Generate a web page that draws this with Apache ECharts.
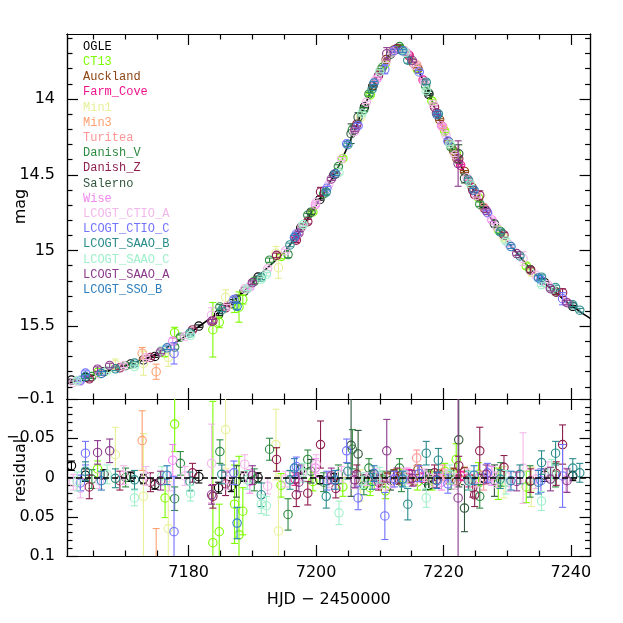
<!DOCTYPE html>
<html>
<head>
<meta charset="utf-8">
<script src="https://cdn.jsdelivr.net/npm/echarts@6/dist/echarts.min.js"></script>
<style>html,body{margin:0;padding:0;background:#fff}#c{width:623px;height:623px}</style>
</head>
<body>
<div id="c"></div>
<script>
// ---------- axis ranges & tick labels ----------
const xMin = 7160.9, xMax = 7243.1;
const magMin = 13.571, magMax = 15.98;
const resMin = -0.1, resMax = 0.1;
const xMajorTicks = [7180, 7200, 7220, 7240];
const xMinorTicks = [7165, 7170, 7175, 7185, 7190, 7195, 7205, 7210, 7215, 7225, 7230, 7235];
const magMajorTicks = [14, 14.5, 15, 15.5];
const magMinorTicks = [13.6, 13.7, 13.8, 13.9, 14.1, 14.2, 14.3, 14.4, 14.6, 14.7, 14.8, 14.9, 15.1, 15.2, 15.3, 15.4, 15.6, 15.7, 15.8, 15.9];
const resMajorTicks = [-0.1, -0.05, 0, 0.05, 0.1];
const resMinorTicks = [-0.09, -0.08, -0.07, -0.06, -0.04, -0.03, -0.02, -0.01, 0.01, 0.02, 0.03, 0.04, 0.06, 0.07, 0.08, 0.09];

// ---------- model light curve ----------
const modelT = [7160.9, 7163, 7165, 7167, 7170, 7173, 7175, 7177, 7179, 7181, 7183, 7185, 7187, 7189, 7191, 7193, 7195, 7197, 7199, 7201, 7203, 7205, 7207, 7209, 7210, 7211, 7212, 7213, 7214, 7215, 7216, 7217, 7218, 7219, 7220, 7221, 7222, 7223, 7224, 7225, 7226, 7227, 7228, 7229, 7230, 7231, 7232, 7233, 7234, 7235, 7236, 7237, 7238, 7239, 7240, 7241, 7242, 7243.1];
const modelMag = [15.88, 15.85, 15.825, 15.80, 15.76, 15.72, 15.68, 15.63, 15.58, 15.52, 15.46, 15.40, 15.33, 15.26, 15.17, 15.09, 15.01, 14.90, 14.77, 14.63, 14.49, 14.31, 14.11, 13.91, 13.82, 13.74, 13.685, 13.665, 13.69, 13.74, 13.81, 13.89, 13.99, 14.10, 14.20, 14.30, 14.38, 14.46, 14.54, 14.62, 14.69, 14.76, 14.82, 14.88, 14.94, 14.99, 15.04, 15.09, 15.14, 15.18, 15.22, 15.26, 15.29, 15.33, 15.36, 15.39, 15.42, 15.45];

// ---------- datasets ----------
const OGLE_t = [7161.6, 7163.8, 7166.7, 7170.9, 7172.9, 7174.7, 7181.6, 7184.7, 7186.7, 7188.7, 7190.9, 7197.6, 7200.6, 7202.8, 7207.6, 7208.9, 7212.6, 7217.7, 7226.4, 7235.9, 7240.3];
const OGLE_mag = [15.855, 15.837, 15.80, 15.749, 15.722, 15.699, 15.499, 15.423, 15.351, 15.269, 15.175, 14.85, 14.663, 14.50, 14.052, 13.916, 13.673, 13.97, 14.721, 15.212, 15.368];
const OGLE_res = [-0.015, -0.003, -0.004, -0.001, 0.002, 0.009, -0.001, 0.013, 0.011, -0.001, 0, -0.010, 0.003, 0, 0.002, -0.004, 0.003, 0.010, 0.001, -0.003, -0.002];
const OGLE_err = [0.006, 0.008, 0.006, 0.006, 0.006, 0.006, 0.008, 0.007, 0.007, 0.006, 0.006, 0.006, 0.005, 0.005, 0.005, 0.005, 0.005, 0.005, 0.005, 0.008, 0.006];

const CT13_t = [7165.7, 7176.3, 7177.8, 7183.8, 7184.8, 7187.2, 7187.9, 7188.5, 7194.5, 7199.5, 7204.2, 7208.5, 7210.9, 7213.3, 7215.9, 7218.2, 7220.2, 7222.0, 7225.5, 7228.6, 7233.0];
const CT13_mag = [15.804, 15.676, 15.542, 15.523, 15.474, 15.359, 15.373, 15.323, 15.04, 14.745, 14.392, 13.973, 13.767, 13.667, 13.806, 14.014, 14.212, 14.357, 14.651, 14.863, 15.102];
const CT13_res = [-0.011, 0.026, -0.068, 0.083, 0.069, 0.034, 0.073, 0.043, 0.010, 0.005, 0.012, 0.013, 0.017, -0.003, 0.006, 0.004, -0.008, -0.023, -0.004, 0.008, 0.012];
const CT13_err = [0.010, 0.025, 0.035, 0.18, 0.035, 0.05, 0.10, 0.03, 0.015, 0.012, 0.012, 0.010, 0.010, 0.008, 0.010, 0.012, 0.010, 0.020, 0.015, 0.020, 0.020];

const Auckland_t = [7209.0, 7210.2, 7211.0, 7212.2, 7213.0, 7213.8, 7214.6, 7215.3, 7216.0, 7219.4, 7220.8, 7221.6, 7222.1, 7223.3, 7224.5];
const Auckland_mag = [13.908, 13.808, 13.74, 13.676, 13.667, 13.682, 13.716, 13.764, 13.80, 14.136, 14.282, 14.344, 14.394, 14.478, 14.583];
const Auckland_res = [-0.002, 0.003, 0.000, -0.004, 0.002, -0.003, 0.001, 0.004, -0.010, -0.004, 0.002, -0.006, 0.004, -0.007, 0.003];
const Auckland_err = [0.006, 0.006, 0.006, 0.006, 0.006, 0.006, 0.006, 0.006, 0.006, 0.006, 0.006, 0.006, 0.006, 0.006, 0.006];

const FarmCove_t = [7196.7, 7214.6, 7216.8, 7222.7, 7224.0];
const FarmCove_mag = [14.922, 13.711, 13.875, 14.438, 14.544];
const FarmCove_res = [0.002, -0.004, 0.000, -0.002, 0.004];
const FarmCove_err = [0.008, 0.006, 0.006, 0.006, 0.008];

const Min1_t = [7168.5, 7172.9, 7176.8, 7185.8, 7193.7, 7194.1, 7207.0, 7229.5, 7233.8];
const Min1_mag = [15.751, 15.744, 15.705, 15.309, 15.018, 15.113, 14.12, 14.916, 15.142];
const Min1_res = [-0.029, 0.024, 0.065, -0.061, -0.042, 0.068, 0.010, 0.006, 0.012];
const Min1_err = [0.035, 0.08, 0.06, 0.05, 0.045, 0.07, 0.02, 0.02, 0.025];

const Min3_t = [7172.7, 7174.9];
const Min3_mag = [15.678, 15.80];
const Min3_res = [-0.047, 0.115];
const Min3_err = [0.038, 0.05];

const Turitea_t = [7215.8, 7219.9, 7226.3];
const Turitea_mag = [13.775, 14.184, 14.714];
const Turitea_res = [-0.025, -0.006, 0.004];
const Turitea_err = [0.010, 0.010, 0.012];

const DanishV_t = [7164.8, 7170.1, 7177.8, 7178.7, 7184.9, 7190.3, 7192.7, 7195.6, 7198.7, 7201.2, 7203.5, 7205.7, 7207.5, 7208.3, 7210.4, 7213.1, 7213.4, 7217.2, 7221.2, 7225.7, 7229.0, 7233.6, 7237.6];
const DanishV_mag = [15.832, 15.76, 15.637, 15.572, 15.372, 15.203, 15.064, 15.027, 14.767, 14.626, 14.446, 14.204, 14.07, 13.968, 13.792, 13.654, 13.676, 13.914, 14.318, 14.694, 14.876, 15.125, 15.272];
const DanishV_res = [0.002, 0.000, 0.027, -0.018, -0.033, 0.003, -0.036, 0.047, -0.023, 0.006, -0.004, -0.036, 0.010, -0.012, 0.002, -0.012, 0.006, 0.004, 0.003, 0.024, -0.004, 0.005, -0.003];
const DanishV_err = [0.012, 0.012, 0.015, 0.015, 0.015, 0.014, 0.014, 0.02, 0.012, 0.012, 0.012, 0.025, 0.012, 0.012, 0.010, 0.012, 0.012, 0.012, 0.012, 0.015, 0.015, 0.02, 0.015];

const DanishZ_t = [7164.4, 7169.2, 7174.0, 7180.6, 7183.8, 7185.8, 7193.8, 7196.9, 7198.7, 7200.7, 7203.1, 7206.4, 7209.8, 7212.7, 7218.6, 7222.4, 7224.6, 7224.9, 7225.7, 7229.5, 7233.7, 7237.7, 7238.7];
const DanishZ_mag = [15.847, 15.774, 15.706, 15.524, 15.464, 15.378, 15.032, 14.932, 14.81, 14.613, 14.494, 14.166, 13.846, 13.666, 14.054, 14.395, 14.603, 14.632, 14.636, 14.897, 15.129, 15.275, 15.278];
const DanishZ_res = [0.012, 0.004, 0.006, -0.006, 0.024, 0.008, -0.023, 0.022, 0.020, -0.042, 0.014, -0.004, 0.006, -0.002, -0.006, -0.015, 0.013, 0.022, -0.034, -0.013, 0.004, -0.005, -0.042];
const DanishZ_err = [0.015, 0.012, 0.012, 0.012, 0.015, 0.015, 0.015, 0.015, 0.015, 0.03, 0.012, 0.012, 0.010, 0.010, 0.010, 0.012, 0.012, 0.015, 0.03, 0.015, 0.015, 0.015, 0.025];

const Salerno_t = [7187.5, 7199.2, 7205.5, 7206.6, 7211.7, 7217.7, 7222.4, 7223.3, 7228.0];
const Salerno_mag = [15.32, 14.747, 14.229, 14.12, 13.704, 13.962, 14.362, 14.524, 14.824];
const Salerno_res = [0.005, -0.008, -0.041, -0.030, 0.004, 0.002, -0.048, 0.039, 0.004];
const Salerno_err = [0.02, 0.015, 0.065, 0.03, 0.012, 0.012, 0.06, 0.03, 0.02];

const Wise_t = [7177.5, 7189.6, 7199.9, 7209.6, 7214.3, 7219.7, 7227.6];
const Wise_mag = [15.598, 15.24, 14.698, 13.864, 13.698, 14.176, 14.798];
const Wise_res = [-0.022, 0.005, -0.012, 0.004, -0.002, 0.006, -0.002];
const Wise_err = [0.02, 0.015, 0.012, 0.010, 0.010, 0.010, 0.012];

const CTIOA_t = [7161.9, 7163.0, 7166.0, 7169.8, 7173.3, 7177.0, 7179.4, 7183.6, 7186.0, 7188.8, 7192.4, 7195.2, 7197.8, 7200.0, 7202.0, 7204.0, 7206.0, 7207.9, 7209.3, 7211.0, 7212.0, 7213.8, 7215.5, 7217.0, 7218.4, 7220.4, 7221.8, 7223.7, 7225.2, 7227.0, 7228.4, 7230.3, 7232.5, 7234.5, 7236.4, 7239.2];
const CTIOA_mag = [15.871, 15.864, 15.814, 15.76, 15.708, 15.635, 15.568, 15.427, 15.368, 15.253, 15.121, 15.002, 14.844, 14.683, 14.563, 14.396, 14.216, 14.022, 13.877, 13.751, 13.69, 13.681, 13.778, 13.887, 14.034, 14.238, 14.37, 14.519, 14.637, 14.755, 14.848, 14.961, 15.053, 15.162, 15.227, 15.338];
const CTIOA_res = [0.006, 0.014, 0.004, -0.003, -0.002, 0.005, -0.002, -0.018, 0.003, -0.017, 0.011, 0.002, -0.006, -0.017, 0.003, -0.004, 0.006, 0.002, -0.003, 0.011, 0.005, -0.004, 0.003, -0.003, 0.004, -0.002, 0.005, -0.001, 0.002, -0.005, 0.003, 0.006, -0.012, 0.002, -0.008, 0.003];
const CTIOA_err = [0.010, 0.012, 0.010, 0.012, 0.012, 0.012, 0.012, 0.05, 0.012, 0.012, 0.010, 0.010, 0.010, 0.012, 0.010, 0.010, 0.008, 0.008, 0.008, 0.008, 0.008, 0.008, 0.008, 0.008, 0.008, 0.008, 0.010, 0.010, 0.010, 0.010, 0.010, 0.012, 0.045, 0.012, 0.012, 0.015];

const CTIOC_t = [7163.0, 7163.8, 7177.7, 7187.1, 7196.9, 7201.7, 7204.8, 7206.6, 7210.8, 7212.3, 7216.2, 7220.7, 7226.9, 7235.3, 7238.7];
const CTIOC_mag = [15.857, 15.809, 15.679, 15.324, 14.891, 14.589, 14.296, 14.176, 13.804, 13.68, 13.821, 14.278, 14.749, 15.194, 15.318];
const CTIOC_res = [0.007, -0.031, 0.069, -0.006, -0.014, 0.004, -0.034, 0.026, 0.049, 0.002, -0.005, 0.008, -0.006, 0.004, -0.002];
const CTIOC_err = [0.010, 0.015, 0.07, 0.015, 0.012, 0.012, 0.015, 0.015, 0.03, 0.010, 0.010, 0.012, 0.012, 0.015, 0.04];

const SAAOB_t = [7163.8, 7168.5, 7171.5, 7180.2, 7185.2, 7191.4, 7195.9, 7201.6, 7205.0, 7208.8, 7214.4, 7217.3, 7219.2, 7223.9, 7228.9, 7232.0, 7235.4, 7237.6, 7240.3, 7241.4];
const SAAOB_mag = [15.832, 15.781, 15.743, 15.545, 15.391, 15.177, 14.963, 14.614, 14.302, 13.935, 13.744, 13.889, 14.098, 14.534, 14.877, 15.036, 15.176, 15.244, 15.358, 15.394];
const SAAOB_res = [-0.008, 0.001, 0.003, 0.005, -0.004, 0.022, 0.003, 0.024, -0.008, 0.005, 0.034, -0.031, -0.022, 0.004, 0.002, -0.004, -0.019, -0.031, -0.012, -0.006];
const SAAOB_err = [0.012, 0.012, 0.012, 0.012, 0.012, 0.015, 0.012, 0.015, 0.010, 0.010, 0.02, 0.015, 0.015, 0.012, 0.012, 0.012, 0.015, 0.015, 0.012, 0.012];

const SAAOC_t = [7162.5, 7167.2, 7171.5, 7175.8, 7180.3, 7189.2, 7191.4, 7192.2, 7198.0, 7203.6, 7207.2, 7210.0, 7214.0, 7217.3, 7221.0, 7224.2, 7229.8, 7235.4, 7237.0];
const SAAOC_mag = [15.86, 15.793, 15.766, 15.658, 15.56, 15.253, 15.189, 15.156, 14.829, 14.485, 14.094, 13.817, 13.692, 13.946, 14.296, 14.559, 14.936, 15.225, 15.252];
const SAAOC_res = [0.005, -0.004, 0.026, -0.002, 0.020, 0.003, 0.034, 0.036, -0.006, 0.045, 0.004, -0.003, 0.002, 0.026, -0.004, 0.004, 0.006, 0.030, -0.008];
const SAAOC_err = [0.012, 0.012, 0.010, 0.012, 0.010, 0.012, 0.012, 0.012, 0.012, 0.015, 0.010, 0.010, 0.010, 0.012, 0.012, 0.012, 0.015, 0.012, 0.015];

const SAAOA_t = [7165.7, 7167.6, 7175.6, 7183.6, 7190.0, 7197.3, 7202.4, 7206.1, 7211.1, 7215.1, 7218.9, 7222.3, 7226.7, 7231.5, 7236.8, 7239.4];
const SAAOA_mag = [15.783, 15.759, 15.669, 15.467, 15.212, 14.886, 14.528, 14.203, 13.701, 13.746, 14.093, 14.426, 14.736, 15.02, 15.252, 15.344];
const SAAOA_res = [-0.032, -0.034, 0.004, 0.022, -0.003, 0.006, -0.002, 0.003, -0.034, 0.001, 0.003, 0.026, -0.004, 0.005, 0.002, 0.004];
const SAAOA_err = [0.015, 0.015, 0.012, 0.012, 0.012, 0.012, 0.010, 0.010, 0.04, 0.010, 0.010, 0.15, 0.012, 0.012, 0.015, 0.015];

const SSOB_t = [7166.3, 7176.6, 7187.6, 7196.6, 7203.0, 7209.1, 7213.6, 7219.0, 7224.8, 7230.6, 7234.9];
const SSOB_mag = [15.811, 15.642, 15.368, 14.913, 14.493, 13.895, 13.682, 14.104, 14.602, 14.974, 15.181];
const SSOB_res = [0.004, -0.003, 0.058, -0.012, 0.003, -0.005, 0.002, 0.004, -0.003, 0.004, 0.006];
const SSOB_err = [0.012, 0.012, 0.02, 0.012, 0.012, 0.010, 0.010, 0.010, 0.012, 0.012, 0.015];

const names = ['OGLE', 'CT13', 'Auckland', 'Farm_Cove', 'Min1', 'Min3', 'Turitea', 'Danish_V', 'Danish_Z', 'Salerno', 'Wise', 'LCOGT_CTIO_A', 'LCOGT_CTIO_C', 'LCOGT_SAAO_B', 'LCOGT_SAAO_C', 'LCOGT_SAAO_A', 'LCOGT_SSO_B'];
const colors = ['#000000', '#7CFC00', '#8B4513', '#F0148C', '#E8F09A', '#FFA070', '#FF9595', '#2E8B40', '#8E1E4E', '#2F553A', '#F088EE', '#F2B8EA', '#7272FF', '#2A8C8C', '#A0F0CA', '#8C3A8C', '#2E7EBC'];

const sets = [
  [OGLE_t, OGLE_mag, OGLE_res, OGLE_err],
  [CT13_t, CT13_mag, CT13_res, CT13_err],
  [Auckland_t, Auckland_mag, Auckland_res, Auckland_err],
  [FarmCove_t, FarmCove_mag, FarmCove_res, FarmCove_err],
  [Min1_t, Min1_mag, Min1_res, Min1_err],
  [Min3_t, Min3_mag, Min3_res, Min3_err],
  [Turitea_t, Turitea_mag, Turitea_res, Turitea_err],
  [DanishV_t, DanishV_mag, DanishV_res, DanishV_err],
  [DanishZ_t, DanishZ_mag, DanishZ_res, DanishZ_err],
  [Salerno_t, Salerno_mag, Salerno_res, Salerno_err],
  [Wise_t, Wise_mag, Wise_res, Wise_err],
  [CTIOA_t, CTIOA_mag, CTIOA_res, CTIOA_err],
  [CTIOC_t, CTIOC_mag, CTIOC_res, CTIOC_err],
  [SAAOB_t, SAAOB_mag, SAAOB_res, SAAOB_err],
  [SAAOC_t, SAAOC_mag, SAAOC_res, SAAOC_err],
  [SAAOA_t, SAAOA_mag, SAAOA_res, SAAOA_err],
  [SSOB_t, SSOB_mag, SSOB_res, SSOB_err]
];

// ---------- rendering ----------
const FONT = 'DejaVu Sans';
const LINE = {color: '#000', width: 1.2};

function renderErr(color) {
  return function (params, api) {
    const t = api.value(0), v = api.value(1), e = api.value(2);
    const p = api.coord([t, v]);
    const a = api.coord([t, v - e]);
    const b = api.coord([t, v + e]);
    const cap = 3.5, r = 4.2;
    const st = {stroke: color, lineWidth: 1.1, fill: 'none'};
    return {
      type: 'group',
      children: [
        {type: 'line', shape: {x1: p[0], y1: a[1], x2: p[0], y2: b[1]}, style: st},
        {type: 'line', shape: {x1: p[0] - cap, y1: a[1], x2: p[0] + cap, y2: a[1]}, style: st},
        {type: 'line', shape: {x1: p[0] - cap, y1: b[1], x2: p[0] + cap, y2: b[1]}, style: st},
        {type: 'circle', shape: {cx: p[0], cy: p[1], r: r}, style: st}
      ]
    };
  };
}

function xAx(grid, pos, ticks, len, showLabel, name) {
  const ax = {
    type: 'value', gridIndex: grid, position: pos, min: xMin, max: xMax,
    axisLine: {show: true, onZero: false, lineStyle: LINE},
    splitLine: {show: false},
    axisTick: {show: true, inside: true, length: len, customValues: ticks, lineStyle: LINE},
    axisLabel: {show: showLabel, customValues: ticks, margin: 9, color: '#000', fontFamily: FONT, fontSize: 16, formatter: v => String(v)}
  };
  if (name) {
    ax.name = name; ax.nameLocation = 'middle'; ax.nameGap = 36; ax.nameMoveOverlap = false;
    ax.nameTextStyle = {fontFamily: FONT, fontSize: 16, color: '#000'};
  }
  return ax;
}
function yAx(grid, pos, ticks, len, showLabel, mn, mx, fmt, name, shift) {
  const ax = {
    type: 'value', gridIndex: grid, position: pos, min: mn, max: mx, inverse: true,
    axisLine: {show: true, onZero: false, lineStyle: LINE},
    splitLine: {show: false},
    axisTick: {show: true, inside: true, length: len, customValues: ticks, lineStyle: LINE},
    axisLabel: {show: showLabel, customValues: ticks, margin: 12, color: '#000', fontFamily: FONT, fontSize: 16, formatter: fmt}
  };
  if (name) {
    ax.name = name; ax.nameLocation = 'middle'; ax.nameGap = 38; ax.nameMoveOverlap = false;
    ax.nameTextStyle = {fontFamily: FONT, fontSize: 16, color: '#000', padding: [0, 0, 0, shift || 0]};
  }
  return ax;
}
const magFmt = v => String(v);
const resFmt = v => (v < 0 ? '\u2212' + String(Math.abs(v)) : String(v));
const MAJ = 11, MIN = 5.5;

const xAxis = [
  xAx(0, 'bottom', xMajorTicks, MAJ, false),
  xAx(0, 'bottom', xMinorTicks, MIN, false),
  xAx(0, 'top', xMajorTicks, MAJ, false),
  xAx(0, 'top', xMinorTicks, MIN, false),
  xAx(1, 'bottom', xMajorTicks, MAJ, true, 'HJD \u2212 2450000'),
  xAx(1, 'bottom', xMinorTicks, MIN, false),
  xAx(1, 'top', xMajorTicks, MAJ, false),
  xAx(1, 'top', xMinorTicks, MIN, false)
];
const yAxis = [
  yAx(0, 'left', magMajorTicks, MAJ, true, magMin, magMax, magFmt, 'mag', 20),
  yAx(0, 'left', magMinorTicks, MIN, false, magMin, magMax, magFmt),
  yAx(0, 'right', magMajorTicks, MAJ, false, magMin, magMax, magFmt),
  yAx(0, 'right', magMinorTicks, MIN, false, magMin, magMax, magFmt),
  yAx(1, 'left', resMajorTicks, MAJ, true, resMin, resMax, resFmt, 'residual', 14),
  yAx(1, 'left', resMinorTicks, MIN, false, resMin, resMax, resFmt),
  yAx(1, 'right', resMajorTicks, MAJ, false, resMin, resMax, resFmt),
  yAx(1, 'right', resMinorTicks, MIN, false, resMin, resMax, resFmt)
];

const series = [];
series.push({
  type: 'line', name: 'model', xAxisIndex: 0, yAxisIndex: 0, silent: true, z: 1,
  data: modelT.map((t, i) => [t, modelMag[i]]),
  showSymbol: false, symbol: 'none', smooth: 0.3,
  lineStyle: {color: '#000', width: 1.6}
});
series.push({
  type: 'line', name: 'zero', xAxisIndex: 4, yAxisIndex: 4, silent: true, data: [],
  markLine: {silent: true, symbol: 'none', label: {show: false},
    lineStyle: {color: '#000', width: 1.6, type: [6, 3]}, data: [{yAxis: 0}]}
});
sets.forEach((s, i) => {
  const [T, M, R, E] = s;
  series.push({
    type: 'custom', name: names[i], xAxisIndex: 0, yAxisIndex: 0, clip: true, z: 2,
    data: T.map((t, k) => [t, M[k], E[k]]),
    encode: {x: 0, y: 1},
    renderItem: renderErr(colors[i])
  });
  series.push({
    type: 'custom', name: names[i], xAxisIndex: 4, yAxisIndex: 4, clip: true, z: 2,
    data: T.map((t, k) => [t, R[k], E[k]]),
    encode: {x: 0, y: 1},
    renderItem: renderErr(colors[i])
  });
});

const chart = echarts.init(document.getElementById('c'), null, {renderer: 'canvas'});
chart.setOption({
  animation: false,
  backgroundColor: '#fff',
  color: colors,
  grid: [
    {left: 67, top: 34, width: 523.6, height: 365, outerBoundsMode: 'none', containLabel: false},
    {left: 67, top: 399, width: 523.6, height: 157, outerBoundsMode: 'none', containLabel: false}
  ],
  legend: {
    orient: 'vertical', left: 73, top: 34, padding: 5,
    icon: 'rect', itemWidth: 0, itemHeight: 0, itemGap: 0,
    itemStyle: {opacity: 0, borderWidth: 0},
    lineStyle: {opacity: 0},
    selectedMode: false,
    textStyle: {fontFamily: 'Liberation Mono', fontSize: 12, lineHeight: 15.2},
    data: names.map((n, i) => ({name: n, textStyle: {color: colors[i]}}))
  },
  xAxis: xAxis,
  yAxis: yAxis,
  series: series
});
</script>
</body>
</html>
